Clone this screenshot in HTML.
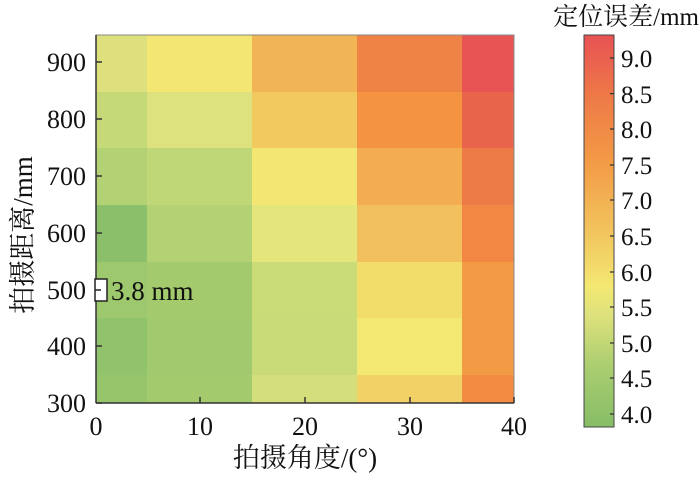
<!DOCTYPE html>
<html><head><meta charset="utf-8"><style>
body{margin:0;background:#fff}
text{font-family:"Liberation Serif","Noto Serif CJK SC",serif;fill:#111}
</style></head><body>
<svg width="700" height="479" xmlns="http://www.w3.org/2000/svg">
<defs><linearGradient id="cb" x1="0" y1="1" x2="0" y2="0">
<stop offset="0" stop-color="#86bd66"/><stop offset="0.15" stop-color="#a9cd70"/>
<stop offset="0.29" stop-color="#dfe27c"/><stop offset="0.36" stop-color="#f3e872"/>
<stop offset="0.5" stop-color="#f2c35d"/><stop offset="0.68" stop-color="#f39a45"/>
<stop offset="0.84" stop-color="#ee7a47"/><stop offset="1" stop-color="#e85254"/></linearGradient></defs>
<g shape-rendering="crispEdges">
<rect x="96" y="35" width="51" height="57" fill="#dde07c"/><rect x="147" y="35" width="105" height="57" fill="#f3e672"/><rect x="252" y="35" width="105" height="57" fill="#f2b556"/><rect x="357" y="35" width="105" height="57" fill="#ef8245"/><rect x="462" y="35" width="52" height="57" fill="#e85353"/>
<rect x="96" y="92" width="51" height="56" fill="#c6d978"/><rect x="147" y="92" width="105" height="56" fill="#dde27e"/><rect x="252" y="92" width="105" height="56" fill="#f2c95f"/><rect x="357" y="92" width="105" height="56" fill="#f49440"/><rect x="462" y="92" width="52" height="56" fill="#e8654c"/>
<rect x="96" y="148" width="51" height="57" fill="#b3d274"/><rect x="147" y="148" width="105" height="57" fill="#c0d777"/><rect x="252" y="148" width="105" height="57" fill="#f3e672"/><rect x="357" y="148" width="105" height="57" fill="#f3ad50"/><rect x="462" y="148" width="52" height="57" fill="#ec7a47"/>
<rect x="96" y="205" width="51" height="57" fill="#8bbf69"/><rect x="147" y="205" width="105" height="57" fill="#b2d274"/><rect x="252" y="205" width="105" height="57" fill="#e4e67c"/><rect x="357" y="205" width="105" height="57" fill="#f2c05d"/><rect x="462" y="205" width="52" height="57" fill="#f28744"/>
<rect x="96" y="262" width="51" height="56" fill="#9ec86d"/><rect x="147" y="262" width="105" height="56" fill="#a3ca6c"/><rect x="252" y="262" width="105" height="56" fill="#c9dc78"/><rect x="357" y="262" width="105" height="56" fill="#f2dc6a"/><rect x="462" y="262" width="52" height="56" fill="#f39a45"/>
<rect x="96" y="318" width="51" height="57" fill="#90c36b"/><rect x="147" y="318" width="105" height="57" fill="#a1c96d"/><rect x="252" y="318" width="105" height="57" fill="#c8db78"/><rect x="357" y="318" width="105" height="57" fill="#f3e872"/><rect x="462" y="318" width="52" height="57" fill="#f39a45"/>
<rect x="96" y="375" width="51" height="28" fill="#96c56c"/><rect x="147" y="375" width="105" height="28" fill="#a3ca6c"/><rect x="252" y="375" width="105" height="28" fill="#d4de7a"/><rect x="357" y="375" width="105" height="28" fill="#f2d266"/><rect x="462" y="375" width="52" height="28" fill="#f28c42"/>
</g>
<g stroke="#333" stroke-width="1.5" fill="none">
<rect x="96" y="35" width="418" height="368" stroke="#888" stroke-width="1"/>
<line x1="96" y1="35" x2="96" y2="403"/><line x1="96" y1="403" x2="514" y2="403"/>
<path d="M96 62h6M96 119h6M96 176h6M96 233h6M96 290h6M96 346h6M96 403h6"/>
<path d="M200 403v-6M305 403v-6M410 403v-6M514 403v-6"/>
</g>
<rect x="95" y="279" width="12" height="22" fill="#fff" stroke="#222" stroke-width="1.5"/>
<line x1="95" y1="290" x2="101" y2="290" stroke="#222" stroke-width="1.5"/>
<text x="111" y="300" font-size="27">3.8 mm</text>
<g font-size="26" text-anchor="end">
<text x="86" y="71">900</text><text x="86" y="128">800</text><text x="86" y="185">700</text><text x="86" y="242">600</text><text x="86" y="299">500</text><text x="86" y="355">400</text><text x="86" y="412">300</text>
</g>
<g font-size="26" text-anchor="middle">
<text x="96" y="435">0</text><text x="200" y="435">10</text><text x="305" y="435">20</text><text x="410" y="435">30</text><text x="514" y="435">40</text>
</g>
<text x="305" y="467" font-size="27" text-anchor="middle">拍摄角度/(°)</text>
<text transform="translate(32 235) rotate(-90)" font-size="27" text-anchor="middle">拍摄距离/mm</text>
<rect x="584" y="35" width="30" height="392" fill="url(#cb)" stroke="#444" stroke-width="1"/>
<g stroke="#333" stroke-width="1.2"><path d="M614 58h-4M614 93.6h-4M614 129h-4M614 165h-4M614 200h-4M614 236h-4M614 272h-4M614 307h-4M614 343h-4M614 378h-4M614 414h-4"/></g>
<g font-size="25">
<text x="621" y="67">9.0</text><text x="621" y="103">8.5</text><text x="621" y="138">8.0</text><text x="621" y="174">7.5</text><text x="621" y="209">7.0</text><text x="621" y="245">6.5</text><text x="621" y="281">6.0</text><text x="621" y="316">5.5</text><text x="621" y="352">5.0</text><text x="621" y="387">4.5</text><text x="621" y="423">4.0</text>
</g>
<text x="699" y="25" font-size="25" text-anchor="end">定位误差/mm</text>
</svg>
</body></html>
